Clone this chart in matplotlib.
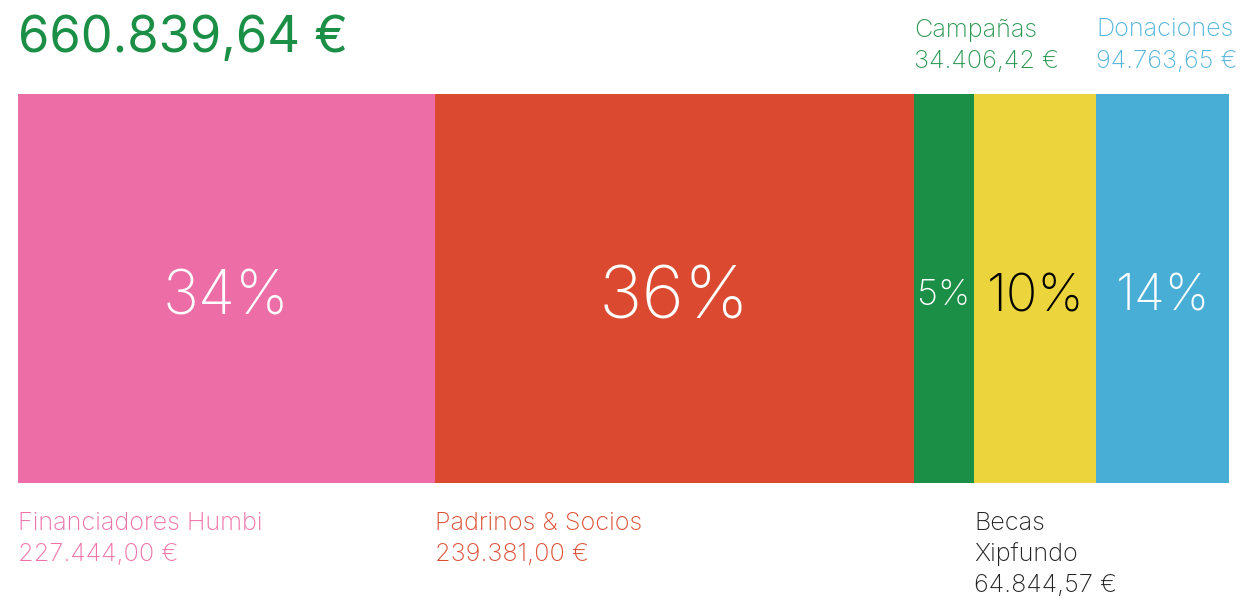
import matplotlib.pyplot as plt
import matplotlib.transforms as mtransforms

# data
names = ['Financiadores Humbi', 'Padrinos & Socios', 'Campañas', 'Becas\nXipfundo', 'Donaciones']
amounts = [227444.00, 239381.00, 34406.42, 64844.57, 94763.65]
# share of the bar each segment takes, as drawn (percent of bar length)
bar_share = [34.43, 39.54, 4.95, 10.10, 10.98]

colors = ['#ED6EA6', '#DB4A30', '#1B8F46', '#ECD43C', '#49AED6']
label_colors = ['#EE72A8', '#DC4E34', '#2A9853', '#222222', '#52B5DC']
pct_colors = ['white', 'white', 'white', 'black', 'white']
pct_sizes = [43.5, 52.5, 26, 37.5, 36]
label_side = ['below', 'below', 'above', 'below', 'above']

FONT = ['Inter', 'DejaVu Sans']
W, H = 1241, 601


def euro(v):
    s = f'{v:,.2f}'
    s = s.replace(',', 'X').replace('.', ',').replace('X', '.')
    return s + ' €'


total = sum(amounts)

fig = plt.figure(figsize=(W / 100, H / 100), dpi=100)
ax = fig.add_axes([18 / W, 1 - 483 / H, (1229.3 - 18) / W, (483 - 94) / H])
ax.set_xlim(0, sum(bar_share))
ax.set_ylim(0, 1)
ax.axis('off')

lefts = []
x = 0
for share, c in zip(bar_share, colors):
    ax.barh(0.5, share, left=x, height=1, color=c, linewidth=0)
    lefts.append(x)
    x += share

trans = mtransforms.blended_transform_factory(ax.transData, fig.transFigure)

for i in range(len(amounts)):
    pct = round(amounts[i] / total * 100)
    ax.text(lefts[i] + bar_share[i] / 2, 0.49, f'{pct}%', ha='center', va='center_baseline',
            color=pct_colors[i], fontsize=pct_sizes[i], family=FONT, fontweight='light')

    lines = names[i].split('\n') + [euro(amounts[i])]
    if label_side[i] == 'above':
        base = 36.5
    else:
        base = 530
    for j, line in enumerate(lines):
        ax.text(lefts[i], 1 - (base + j * 31) / H, line, transform=trans,
                ha='left', va='baseline', color=label_colors[i], fontsize=18.2,
                family=FONT, fontweight='light')

fig.text(18 / W, 1 - 51.7 / H, euro(total), ha='left', va='baseline',
         color='#1B8F46', fontsize=36.5, family=FONT)

fig.savefig('out.png', dpi=100, facecolor='white')
